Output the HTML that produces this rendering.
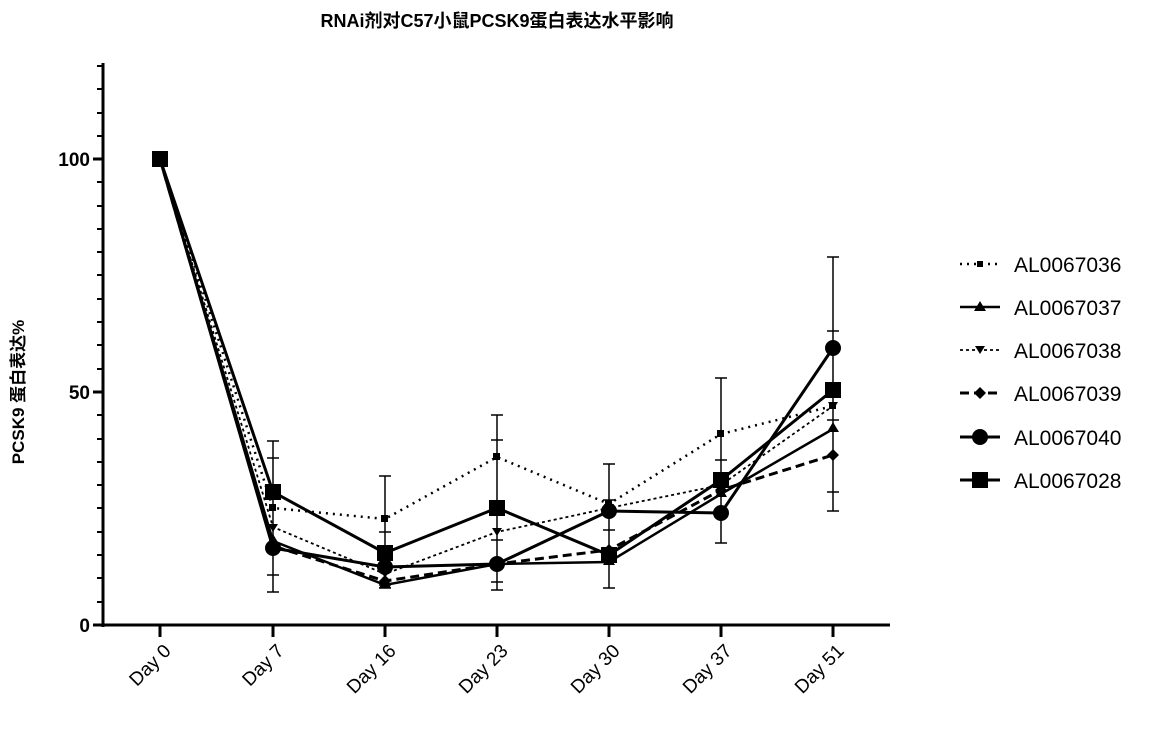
<!DOCTYPE html>
<html><head><meta charset="utf-8"><style>body{margin:0;background:#fff}svg text{font-family:"Liberation Sans","Noto Sans CJK SC",sans-serif}</style></head><body>
<svg width="1160" height="725" viewBox="0 0 1160 725" xmlns="http://www.w3.org/2000/svg">
<text x="497" y="27" font-size="18" font-weight="bold" text-anchor="middle">RNAi剂对C57小鼠PCSK9蛋白表达水平影响</text>
<g stroke="#000" stroke-width="3" fill="none">
<line x1="103" y1="63" x2="103" y2="627"/>
<line x1="101" y1="625" x2="890" y2="625"/>
<line x1="160" y1="625" x2="160" y2="637"/><line x1="273" y1="625" x2="273" y2="637"/><line x1="385" y1="625" x2="385" y2="637"/><line x1="497" y1="625" x2="497" y2="637"/><line x1="609" y1="625" x2="609" y2="637"/><line x1="721" y1="625" x2="721" y2="637"/><line x1="833" y1="625" x2="833" y2="637"/>
<line x1="93" y1="159" x2="103" y2="159"/><line x1="93" y1="392" x2="103" y2="392"/><line x1="93" y1="625" x2="103" y2="625"/>
</g>
<g stroke="#000" stroke-width="2">
<path d="M97 66H103M97 89H103M97 113H103M97 136H103M97 182H103M97 206H103M97 229H103M97 252H103M97 275H103M97 299H103M97 322H103M97 345H103M97 369H103M97 415H103M97 439H103M97 462H103M97 485H103M97 508H103M97 532H103M97 555H103M97 578H103M97 602H103"/>
</g>
<g font-size="19" text-anchor="end" font-weight="bold"><text x="90" y="166">100</text><text x="90" y="399">50</text><text x="90" y="632">0</text></g>
<text transform="translate(24,392) rotate(-90)" font-size="17" font-weight="bold" text-anchor="middle">PCSK9 蛋白表达%</text>
<g font-size="19" text-anchor="end">
<text transform="translate(172,652) rotate(-45)">Day 0</text>
<text transform="translate(285,652) rotate(-45)">Day 7</text>
<text transform="translate(397,652) rotate(-45)">Day 16</text>
<text transform="translate(509,652) rotate(-45)">Day 23</text>
<text transform="translate(621,652) rotate(-45)">Day 30</text>
<text transform="translate(733,652) rotate(-45)">Day 37</text>
<text transform="translate(845,652) rotate(-45)">Day 51</text>
</g>
<g stroke="#000" stroke-width="1.5">
<path d="M273 441V592M267 441H279M267 592H279M267 458H279M267 575H279"/>
<path d="M385 476V588M379 476H391M379 588H391M379 532H391M379 585H391"/>
<path d="M497 415V590M491 415H503M491 590H503M491 440H503M491 582H503M491 540H503"/>
<path d="M609 464V588M603 464H615M603 588H615M603 500H615M603 530H615"/>
<path d="M721 378V543M715 378H727M715 543H727M715 460H727"/>
<path d="M833 257V511M827 257H839M827 511H839M827 331H839M827 492H839M827 420H839"/>
</g>
<g fill="none" stroke="#000">
<polyline stroke-width="2.5" stroke-dasharray="2 5" points="160,159 273,508 385,519 497,457 609,504 721,434 833,406"/>
<polyline stroke-width="2.5" points="160,159 273,541 385,585 497,564 609,562 721,494 833,429"/>
<polyline stroke-width="1.8" stroke-dasharray="3 3" points="160,159 273,527 385,574 497,532 609,508 721,485 833,406"/>
<polyline stroke-width="3" stroke-dasharray="9 5" points="160,159 273,546 385,581 497,564 609,550 721,490 833,455"/>
<polyline stroke-width="3" points="160,159 273,548 385,567 497,564 609,511 721,513 833,348"/>
<polyline stroke-width="3" points="160,159 273,492 385,553 497,508 609,555 721,480 833,390"/>
</g>
<g fill="#000">
<rect x="269" y="504" width="7" height="7"/><rect x="381" y="515" width="7" height="7"/><rect x="493" y="453" width="7" height="7"/><rect x="605" y="500" width="7" height="7"/><rect x="717" y="430" width="7" height="7"/><rect x="829" y="402" width="7" height="7"/>
<path d="M273 534l6 10h-12zM385 578l6 10h-12zM497 557l6 10h-12zM609 555l6 10h-12zM721 487l6 10h-12zM833 422l6 10h-12z"/>
<path d="M273 532l5-8h-10zM385 578l5-8h-10zM497 536l5-8h-10zM609 512l5-8h-10zM721 489l5-8h-10zM833 410l5-8h-10z"/>
<path d="M273 540l6 6-6 6-6-6zM385 575l6 6-6 6-6-6zM497 558l6 6-6 6-6-6zM609 544l6 6-6 6-6-6zM721 484l6 6-6 6-6-6zM833 449l6 6-6 6-6-6z"/>
<circle cx="273" cy="548" r="8"/><circle cx="385" cy="567" r="8"/><circle cx="497" cy="564" r="8"/><circle cx="609" cy="511" r="8"/><circle cx="721" cy="513" r="8"/><circle cx="833" cy="348" r="8"/>
<rect x="265" y="484" width="16" height="16"/><rect x="377" y="545" width="16" height="16"/><rect x="489" y="500" width="16" height="16"/><rect x="601" y="547" width="16" height="16"/><rect x="713" y="472" width="16" height="16"/><rect x="825" y="382" width="16" height="16"/>
<rect x="152" y="151" width="16" height="16"/>
</g>
<g fill="none" stroke="#000">
<line x1="960" y1="264" x2="1000" y2="264" stroke-width="2.5" stroke-dasharray="2 5"/>
<line x1="960" y1="307" x2="1000" y2="307" stroke-width="2.5"/>
<line x1="960" y1="350" x2="1000" y2="350" stroke-width="1.8" stroke-dasharray="3 3"/>
<line x1="960" y1="393" x2="1000" y2="393" stroke-width="3" stroke-dasharray="9 5"/>
<line x1="960" y1="437" x2="1000" y2="437" stroke-width="3"/>
<line x1="960" y1="480" x2="1000" y2="480" stroke-width="3"/>
</g>
<g fill="#000">
<rect x="977" y="261" width="6" height="6"/>
<path d="M980 301l6 10h-12z"/>
<path d="M980 354l5-8h-10z"/>
<path d="M980 387l6 6-6 6-6-6z"/>
<circle cx="980" cy="437" r="8"/>
<rect x="972" y="472" width="16" height="16"/>
</g>
<g font-size="21"><text x="1014" y="272">AL0067036</text><text x="1014" y="315">AL0067037</text><text x="1014" y="358">AL0067038</text><text x="1014" y="401">AL0067039</text><text x="1014" y="445">AL0067040</text><text x="1014" y="488">AL0067028</text></g>
</svg>
</body></html>
